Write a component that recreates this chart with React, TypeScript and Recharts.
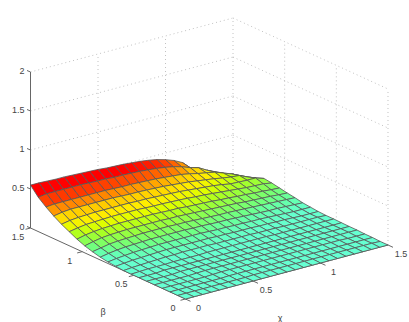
import React from 'react';
import { ScatterChart, Scatter, XAxis, YAxis } from 'recharts';

const chiValues = [0,0.0625,0.125,0.1875,0.25,0.3125,0.375,0.4375,0.5,0.5625,0.625,0.6875,0.75,0.8125,0.875,0.9375,1,1.0625,1.125,1.1875,1.25,1.3125,1.375,1.4375,1.5];
const betaValues = [1.5,1.425,1.35,1.275,1.2,1.125,1.05,0.975,0.9,0.825,0.75,0.675,0.6,0.525,0.45,0.375,0.3,0.225,0.15,0.075,0];
const surfaceZ = [
[.55,.55,.545,.54,.54,.535,.53,.525,.52,.51,.505,.5,.49,.48,.465,.445,.415,.375,.32,.22,.08,.03,.01,0,0],
[.44,.455,.455,.455,.455,.455,.45,.445,.445,.435,.435,.43,.425,.415,.405,.39,.37,.34,.3,.27,.21,.16,.07,.03,0],
[.36,.37,.37,.37,.37,.37,.37,.37,.365,.36,.36,.355,.35,.345,.335,.325,.315,.295,.27,.25,.23,.19,.15,.1,.03],
[.29,.31,.32,.32,.32,.32,.32,.32,.315,.31,.31,.305,.3,.295,.285,.275,.265,.25,.235,.22,.2,.185,.175,.127,.085],
[.23,.25,.26,.265,.27,.27,.27,.27,.27,.265,.265,.26,.255,.25,.245,.235,.225,.215,.205,.19,.17,.165,.16,.16,.125],
[.18,.2,.215,.22,.225,.23,.23,.23,.23,.225,.22,.22,.215,.21,.205,.195,.19,.18,.17,.16,.15,.14,.135,.13,.112],
[.13,.155,.17,.18,.185,.19,.19,.19,.19,.19,.185,.18,.18,.17,.165,.16,.155,.145,.14,.13,.125,.115,.11,.1,.094],
[.09,.115,.135,.145,.15,.155,.155,.155,.155,.155,.15,.15,.145,.14,.135,.13,.125,.12,.115,.105,.1,.095,.09,.08,.075],
[.06,.08,.1,.11,.115,.12,.125,.125,.125,.125,.12,.12,.115,.11,.105,.1,.1,.095,.09,.085,.08,.075,.07,.065,.06],
[.035,.055,.07,.08,.085,.09,.095,.095,.095,.095,.095,.09,.09,.085,.08,.08,.075,.07,.065,.06,.055,.055,.05,.045,.04],
[.02,.035,.045,.055,.06,.065,.07,.07,.07,.07,.07,.07,.065,.06,.06,.055,.055,.05,.05,.045,.04,.035,.03,.03,.03],
[.01,.02,.03,.035,.04,.045,.05,.05,.05,.05,.05,.05,.045,.045,.04,.04,.04,.035,.035,.03,.03,.025,.02,.02,.02],
[0,.01,.015,.02,.025,.03,.03,.035,.035,.035,.035,.03,.03,.03,.03,.03,.025,.025,.025,.02,.02,.02,.02,.02,.015],
[0,.005,.01,.01,.01,.015,.015,.015,.015,.02,.02,.02,.02,.02,.02,.02,.02,.015,.015,.015,.015,.015,.015,.015,.015],
[0,0,0,.01,.01,.01,.01,.01,.01,.01,.01,.01,.01,.01,.01,.01,.01,.01,.01,.01,.01,.01,.01,.01,.012],
[0,0,0,0,.01,.01,.01,.01,.01,.01,.01,.01,.01,.01,.01,.01,.01,.01,.01,.01,.01,.01,.01,.01,.01],
[0,0,0,0,0,.005,.01,.01,.01,.01,.01,.01,.01,.01,.01,.01,.01,.01,.01,.01,.01,.01,.01,.01,.01],
[0,0,0,0,0,0,.005,.01,.01,.01,.01,.01,.01,.01,.01,.01,.01,.01,.01,.01,.01,.01,.005,.005,.005],
[0,0,0,0,0,0,0,.005,.005,.005,.005,.005,.005,.005,.005,.005,.005,.005,.005,.005,.005,.005,.005,.005,.005],
[0,0,0,0,0,0,0,0,0,.005,.005,.005,.005,.005,.005,.005,.005,.005,.005,.005,.005,.005,.005,.005,0],
[0,0,0,0,0,0,0,0,0,0,0,0,0,0,0,0,0,0,0,0,0,0,0,0,0],
];

const chiTicks = [0, 0.5, 1, 1.5];
const betaTicks = [0, 0.5, 1, 1.5];
const zTicks = [0, 0.5, 1, 1.5, 2];
const colorStops: [number, number[]][] = [
  [0, [102,255,210]], [0.03, [102,255,204]], [0.06, [102,255,170]], [0.085, [112,255,128]], [0.12, [136,255,85]],
  [0.16, [170,255,34]], [0.2, [221,255,0]], [0.245, [255,238,0]], [0.295, [255,204,0]],
  [0.35, [255,128,0]], [0.42, [255,48,0]], [0.47, [255,0,0]],
];

const W = 409, H = 322;
const project = (chi: number, beta: number, z: number) => ({
  x: 30.5 + 135 * chi + 103.33 * (1.5 - beta),
  y: 228 - 36 * chi + 47.33 * (1.5 - beta) - 78 * z,
});
const colorOf = (z: number) => {
  const top = colorStops[colorStops.length - 1];
  if (z >= top[0]) return `rgb(${top[1].join(',')})`;
  let i = 0;
  while (i < colorStops.length - 2 && z > colorStops[i + 1][0]) i++;
  const [a, ca] = colorStops[i], [b, cb] = colorStops[i + 1];
  const t = (z - a) / (b - a);
  return `rgb(${ca.map((v, n) => Math.round(v + (cb[n] - v) * t)).join(',')})`;
};

const cells: any[] = [];
for (let r = 0; r < betaValues.length - 1; r++) {
  for (let k = chiValues.length - 2; k >= 0; k--) {
    const nodes = [[r, k], [r, k + 1], [r + 1, k + 1], [r + 1, k]];
    const pts = nodes.map(([a, b]) => project(chiValues[b], betaValues[a], surfaceZ[a][b]));
    const mean = nodes.reduce((s, [a, b]) => s + surfaceZ[a][b], 0) / 4;
    cells.push({ x: pts[0].x, y: pts[0].y, pts, fill: colorOf(mean) });
  }
}

const seg = (a: any, b: any, kind: string) => ({ x: a.x, y: a.y, x2: b.x, y2: b.y, kind });
const gridLines: any[] = [];
zTicks.slice(1).forEach((z) => {
  gridLines.push(seg(project(0, 1.5, z), project(1.5, 1.5, z), 'dot'));
  gridLines.push(seg(project(1.5, 1.5, z), project(1.5, 0, z), 'dot'));
});
chiTicks.slice(1).forEach((c) => {
  gridLines.push(seg(project(c, 1.5, 0), project(c, 1.5, 2), 'dot'));
  gridLines.push(seg(project(c, 1.5, 0), project(c, 0, 0), 'dot'));
});
betaTicks.slice(0, 3).forEach((b) => {
  gridLines.push(seg(project(1.5, b, 0), project(1.5, b, 2), 'dot'));
  gridLines.push(seg(project(0, b, 0), project(1.5, b, 0), 'dot'));
});
const axisLines: any[] = [
  seg(project(0, 1.5, 0), project(0, 1.5, 2), 'axis'),
  seg(project(0, 1.5, 0), project(0, 0, 0), 'axis'),
  seg(project(0, 0, 0), project(1.5, 0, 0), 'axis'),
];
const labels: any[] = [];
const tick = (p: any, dx: number, dy: number) => ({ x: p.x, y: p.y, x2: p.x + dx, y2: p.y + dy, kind: 'axis' });
zTicks.forEach((z) => {
  const p = project(0, 1.5, z);
  axisLines.push(tick(p, -3.5, -1.5));
  labels.push({ x: p.x - 6, y: p.y + 1.5, text: String(z), anchor: 'end' });
});
chiTicks.forEach((c) => {
  const p = project(c, 0, 0);
  axisLines.push(tick(p, 5, 2.3));
  labels.push({ x: p.x + 13, y: p.y + 12, text: String(c), anchor: 'middle' });
});
betaTicks.forEach((b) => {
  const p = project(0, b, 0);
  axisLines.push(tick(p, -5, 1.3));
  labels.push({ x: p.x - 12.5, y: p.y + 12, text: String(b), anchor: 'middle' });
});
labels.push({ x: 280, y: 321, text: 'χ', anchor: 'middle' });
labels.push({ x: 103, y: 315, text: 'β', anchor: 'middle' });

const CellShape = (p: any) => {
  const { cx, cy, payload } = p;
  const d = payload.pts.map((q: any) => `${cx + q.x - payload.x},${cy + q.y - payload.y}`).join(' ');
  return <polygon points={d} fill={payload.fill} stroke="#555555" strokeWidth={0.8} strokeLinejoin="round" />;
};
const LineShape = (p: any) => {
  const { cx, cy, payload } = p;
  const dot = payload.kind === 'dot';
  return (
    <line x1={cx} y1={cy} x2={cx + payload.x2 - payload.x} y2={cy + payload.y2 - payload.y}
      stroke={dot ? '#bbbbbb' : '#666666'} strokeWidth={dot ? 0.9 : 1} strokeDasharray={dot ? '1 3' : undefined} />
  );
};
const TextShape = (p: any) => {
  const { cx, cy, payload } = p;
  return <text x={cx} y={cy} textAnchor={payload.anchor} fontSize={9} fontFamily="Liberation Sans, Arial, sans-serif" fill="#444">{payload.text}</text>;
};

export default function App() {
  return (
    <div style={{ position: 'absolute', left: 0, top: 0, width: W, height: H, background: '#fff' }}>
      <ScatterChart width={W} height={H} margin={{ top: 0, right: 0, bottom: 0, left: 0 }}>
        <XAxis type="number" dataKey="x" domain={[0, W]} hide />
        <YAxis type="number" dataKey="y" domain={[0, H]} reversed hide />
        <Scatter data={gridLines} shape={LineShape} isAnimationActive={false} />
        <Scatter data={axisLines} shape={LineShape} isAnimationActive={false} />
        <Scatter data={cells} shape={CellShape} isAnimationActive={false} />
        <Scatter data={labels} shape={TextShape} isAnimationActive={false} />
      </ScatterChart>
    </div>
  );
}
